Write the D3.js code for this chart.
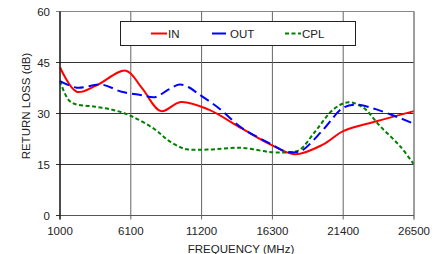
<!DOCTYPE html>
<html>
<head>
<meta charset="utf-8">
<script src="https://cdn.jsdelivr.net/npm/d3@7"></script>
<style>
  body { margin: 0; background: #fff; }
  svg { display: block; font-family: "Liberation Sans", Arial, sans-serif; }
</style>
</head>
<body>
<svg id="chart" width="443" height="254"></svg>
<script>
// frequency ticks (MHz) and return loss ticks (dB)
var freqTicks = [1000, 6100, 11200, 16300, 21400, 26500];
var lossTicks = [0, 15, 30, 45, 60];

// IN curve
var inFreq = [1000, 2200, 3600, 5750, 6880, 8280, 9700, 11680, 14090, 16250, 17930, 19960, 21400, 23800, 26500];
var inLoss = [43.6, 36.4, 38.2, 42.6, 37.6, 30.7, 33.4, 31.2, 25.6, 20.7, 18.0, 20.9, 24.8, 27.7, 30.7];

// OUT curve
var outFreq = [1000, 2200, 4000, 5440, 6880, 7840, 8800, 9600, 10240, 10960, 12400, 14090, 16250, 17200, 17930, 18530, 19970, 21400, 22370, 23800, 26500];
var outLoss = [39.5, 37.6, 38.5, 36.4, 35.4, 34.8, 37.0, 38.5, 37.8, 35.8, 31.7, 25.8, 20.9, 18.9, 18.6, 19.4, 25.3, 31.7, 32.6, 31.2, 27.0];

// CPL curve
var cplFreq = [1000, 1600, 2080, 3520, 4960, 6160, 7840, 8800, 9770, 10240, 11680, 14090, 16250, 17690, 18290, 19490, 20690, 21770, 22850, 24050, 25490, 26500];
var cplLoss = [39.5, 34.1, 32.8, 32.0, 30.9, 29.2, 25.3, 22.1, 19.9, 19.4, 19.4, 19.9, 18.6, 18.7, 19.4, 25.3, 31.2, 33.3, 31.7, 26.3, 20.4, 15.0];

var seriesNames = ["IN", "OUT", "CPL"];

var svg = d3.select("#chart");

var x = d3.scaleLinear().domain([1000, 26500]).range([60, 414]);
var y = d3.scaleLinear().domain([0, 60]).range([215.5, 11.5]);

// grid
svg.append("g").selectAll("line")
    .data(lossTicks)
    .enter().append("line")
    .attr("x1", 56).attr("x2", 414)
    .attr("y1", function(d) { return y(d); })
    .attr("y2", function(d) { return y(d); })
    .attr("stroke", function(d) { return d == 60 ? "#888" : "#333"; })
    .attr("stroke-width", 1);

svg.append("g").selectAll("line")
    .data(freqTicks)
    .enter().append("line")
    .attr("x1", function(d) { return x(d); })
    .attr("x2", function(d) { return x(d); })
    .attr("y1", y(60)).attr("y2", y(0) + 4)
    .attr("stroke", function(d) { return d == 1000 ? "#111" : "#666"; })
    .attr("stroke-width", 1);

// tick labels
svg.append("g").selectAll("text")
    .data(lossTicks)
    .enter().append("text")
    .attr("x", 50)
    .attr("y", function(d) { return y(d) + 4; })
    .attr("text-anchor", "end")
    .attr("font-size", "11.5px")
    .attr("fill", "#222")
    .text(function(d) { return d; });

svg.append("g").selectAll("text")
    .data(freqTicks)
    .enter().append("text")
    .attr("x", function(d) { return x(d); })
    .attr("y", 235)
    .attr("text-anchor", "middle")
    .attr("font-size", "11.5px")
    .attr("fill", "#222")
    .text(function(d) { return d; });

svg.append("text")
    .attr("x", 241).attr("y", 253)
    .attr("text-anchor", "middle")
    .attr("font-size", "11.5px")
    .attr("fill", "#222")
    .text("FREQUENCY (MHz)");

svg.append("text")
    .attr("transform", "translate(30,106) rotate(-90)")
    .attr("text-anchor", "middle")
    .attr("font-size", "11.5px")
    .attr("fill", "#222")
    .text("RETURN LOSS (dB)");

// curves
var line = d3.line()
    .x(function(d) { return x(d[0]); })
    .y(function(d) { return y(d[1]); })
    .curve(d3.curveCatmullRom.alpha(0.5));

function pairs(f, v) { return f.map(function(d, i) { return [d, v[i]]; }); }

var styles = {
    IN: { color: "#ff0000", dash: null },
    OUT: { color: "#0000ff", dash: "10,5" },
    CPL: { color: "#008000", dash: "4,2.5" }
};

var plot = svg.append("g");
plot.append("path").datum(pairs(cplFreq, cplLoss))
    .attr("d", line).attr("fill", "none")
    .attr("stroke", styles.CPL.color).attr("stroke-width", 2)
    .attr("stroke-dasharray", styles.CPL.dash);
plot.append("path").datum(pairs(inFreq, inLoss))
    .attr("d", line).attr("fill", "none")
    .attr("stroke", styles.IN.color).attr("stroke-width", 2);
plot.append("path").datum(pairs(outFreq, outLoss))
    .attr("d", line).attr("fill", "none")
    .attr("stroke", styles.OUT.color).attr("stroke-width", 2)
    .attr("stroke-dasharray", styles.OUT.dash);

// frame: right and bottom
svg.append("line").attr("x1", 414).attr("x2", 414).attr("y1", y(60)).attr("y2", y(0) + 4)
    .attr("stroke", "#888");
svg.append("line").attr("x1", 60).attr("x2", 414).attr("y1", y(0)).attr("y2", y(0))
    .attr("stroke", "#555");
svg.append("line").attr("x1", 60).attr("x2", 60).attr("y1", y(60)).attr("y2", y(0) + 4)
    .attr("stroke", "#111");

// legend
var legend = svg.append("g");
legend.append("rect")
    .attr("x", 120.5).attr("y", 21.5).attr("width", 235).attr("height", 24)
    .attr("fill", "#fff").attr("stroke", "#222").attr("stroke-width", 1);

var legendX = [151, 212, 285];
seriesNames.forEach(function(name, i) {
    var s = styles[name];
    legend.append("line")
        .attr("x1", legendX[i]).attr("x2", legendX[i] + (name == "OUT" ? 14 : 16))
        .attr("y1", 33.5).attr("y2", 33.5)
        .attr("stroke", s.color).attr("stroke-width", 2)
        .attr("stroke-dasharray", name == "CPL" ? s.dash : null);
    legend.append("text")
        .attr("x", legendX[i] + (name == "OUT" ? 18 : 17))
        .attr("y", 37.5)
        .attr("font-size", "11.5px")
        .attr("fill", "#222")
        .text(name);
});
</script>
</body>
</html>
